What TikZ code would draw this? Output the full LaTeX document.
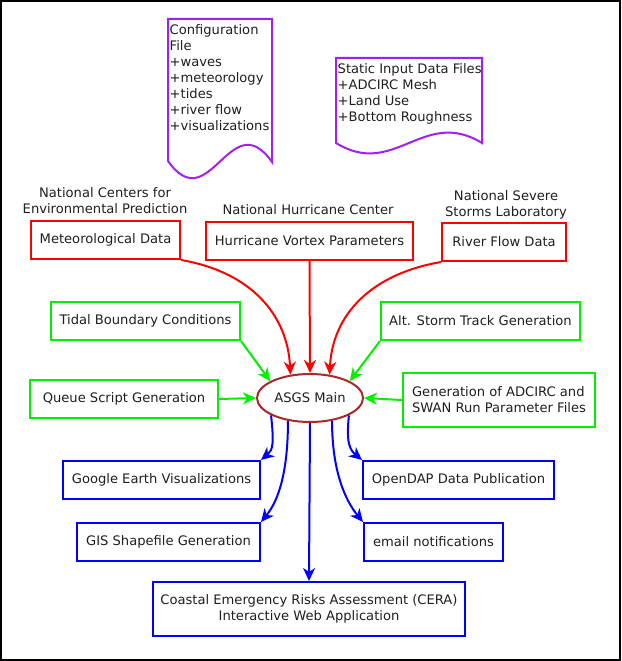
\documentclass[tikz,border=0pt]{standalone}
\usepackage{fontspec}
\setmainfont{DejaVu Sans}
\usetikzlibrary{arrows.meta,shapes.geometric}
\definecolor{docpurple}{HTML}{A020F0}
\definecolor{ellbrown}{HTML}{A52A2A}
\definecolor{lime}{HTML}{00F000}
\begin{document}
\begin{tikzpicture}[x=1pt,y=-1pt,
  every node/.style={font=\fontsize{13.1}{16}\selectfont, text=black!88},
  rbox/.style={draw, rectangle, line width=2pt, inner sep=0pt, minimum height=38pt},
  redbox/.style={rbox, draw=red},
  greenbox/.style={rbox, draw=lime},
  bluebox/.style={rbox, draw=blue},
  doc/.style={draw=docpurple, line width=2pt, fill=white},
  lbl/.style={align=center, inner sep=0pt},
  arr/.style={line width=2pt, -{Stealth[length=13pt,width=12pt,inset=4pt]}},
  redarr/.style={arr, draw=red},
  greenarr/.style={arr, draw=lime},
  bluearr/.style={arr, draw=blue},
]
\useasboundingbox (0,0) rectangle (621,661);
\fill[white] (0,0) rectangle (621,661);
\draw[line width=2pt] (1,1) rectangle (620,660);

% documents
\draw[doc] (168,161) -- (168,19) -- (272,19) -- (272,162)
  .. controls (230.4,103) and (209.6,220) .. (168,161) -- cycle;
\node[align=left, anchor=west, inner sep=0pt] (cfg) at (169.5,78)
  {Configuration\\File\\+waves\\+meteorology\\+tides\\+river flow\\+visualizations};
\draw[doc] (336,143) -- (336,58) -- (482,58) -- (482,143)
  .. controls (423.6,107) and (394.4,179) .. (336,143) -- cycle;
\node[align=left, anchor=west, inner sep=0pt] (sid) at (337.5,94)
  {Static Input Data Files\\+ADCIRC Mesh\\+Land Use\\+Bottom Roughness};

% source labels
\node[lbl] (ncep) at (105,201) {National Centers for\\Environmental Prediction};
\node[lbl] (nhc) at (308,210) {National Hurricane Center};
\node[lbl] (nssl) at (506,205) {National Severe\\Storms Laboratory};

% red boxes
\node[redbox, minimum width=149pt] (met) at (105.5,240) {Meteorological Data};
\node[redbox, minimum width=207pt] (hur) at (309.5,241) {Hurricane Vortex Parameters};
\node[redbox, minimum width=124pt] (riv) at (504,242) {River Flow Data};

% green boxes
\node[greenbox, minimum width=189pt] (tid) at (145.5,321) {Tidal Boundary Conditions};
\node[greenbox, minimum width=199pt] (alt) at (480.5,321) {Alt. Storm Track Generation};
\node[greenbox, minimum width=188pt] (que) at (124,399) {Queue Script Generation};
\node[greenbox, minimum width=192pt, minimum height=54pt, align=left] (gen) at (499,400)
  {Generation of ADCIRC and\\SWAN Run Parameter Files};

% main
\node[ellipse, draw=ellbrown, line width=2pt, fill=white, minimum width=106pt,
  minimum height=48pt, inner sep=0pt] (asgs) at (310,398) {ASGS Main};

% blue boxes
\node[bluebox, minimum width=197pt] (ge) at (161.5,480) {Google Earth Visualizations};
\node[bluebox, minimum width=191pt] (od) at (458.5,480) {OpenDAP Data Publication};
\node[bluebox, minimum width=183pt] (gis) at (168.5,542) {GIS Shapefile Generation};
\node[bluebox, minimum width=139pt] (em) at (433.5,542) {email notifications};
\node[bluebox, minimum width=312pt, minimum height=54pt, align=center] (cera) at (309,609)
  {Coastal Emergency Risks Assessment (CERA)\\Interactive Web Application};

% red arrows
\draw[redarr] (met.south east) .. controls +(70,12) and +(-3,-60) .. (asgs.130);
\draw[redarr] (hur.south) -- (asgs.north);
\draw[redarr] (riv.south west) .. controls +(-70,12) and +(3,-60) .. (asgs.50);

% green arrows
\draw[greenarr] (tid.south east) -- (asgs.157);
\draw[greenarr] (alt.south west) -- (asgs.23);
\draw[greenarr] (que.east) -- (asgs.west);
\draw[greenarr] (gen.west) -- (asgs.east);

% blue arrows
\draw[bluearr] (asgs.-156) .. controls +(3,28) and +(12,-10) .. (ge.north east);
\draw[bluearr] (asgs.-134) .. controls +(0,50) and +(18,-22) .. (gis.north east);
\draw[bluearr] (asgs.south) -- (cera.north);
\draw[bluearr] (asgs.-24) .. controls +(-3,28) and +(-12,-10) .. (od.north west);
\draw[bluearr] (asgs.-46) .. controls +(0,50) and +(-18,-22) .. (em.north west);
\end{tikzpicture}
\end{document}
